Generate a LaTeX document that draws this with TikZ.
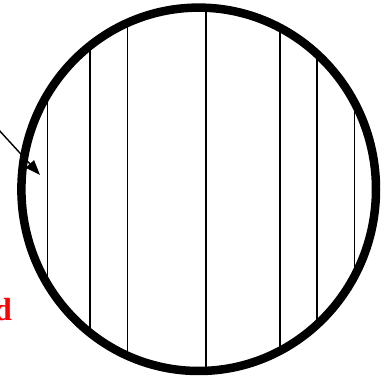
\documentclass[tikz,border=0pt]{standalone}
\usepackage{fontspec}
\setmainfont{Liberation Serif}
\usetikzlibrary{arrows.meta}
\begin{document}
\begin{tikzpicture}[x=1pt,y=-1pt]
  \useasboundingbox (0,0) rectangle (384,377);
  % vertical chords, cut off by the disc
  \begin{scope}
    \clip (198.7,189.3) ellipse (177.3 and 181.7);
    \foreach \x in {47.5,90,127.5,206,280,317,354.5}{
      \draw[line width=1.4pt] (\x,0) -- (\x,377);}
  \end{scope}
  \draw[line width=8.5pt] (198.7,189.3) ellipse (177.3 and 181.7);
  % pointer coming in from the left
  \coordinate (tail) at (-2,129);
  \coordinate (tip) at (40,175);
  \draw[line width=1.4pt,-{Triangle[length=15pt,width=11pt]}] (tail) -- (tip);
  \node[red,font=\bfseries\fontsize{32}{36}\selectfont,anchor=base east,
    inner sep=0pt] (lbl) at (12,321) {d};
\end{tikzpicture}
\end{document}
